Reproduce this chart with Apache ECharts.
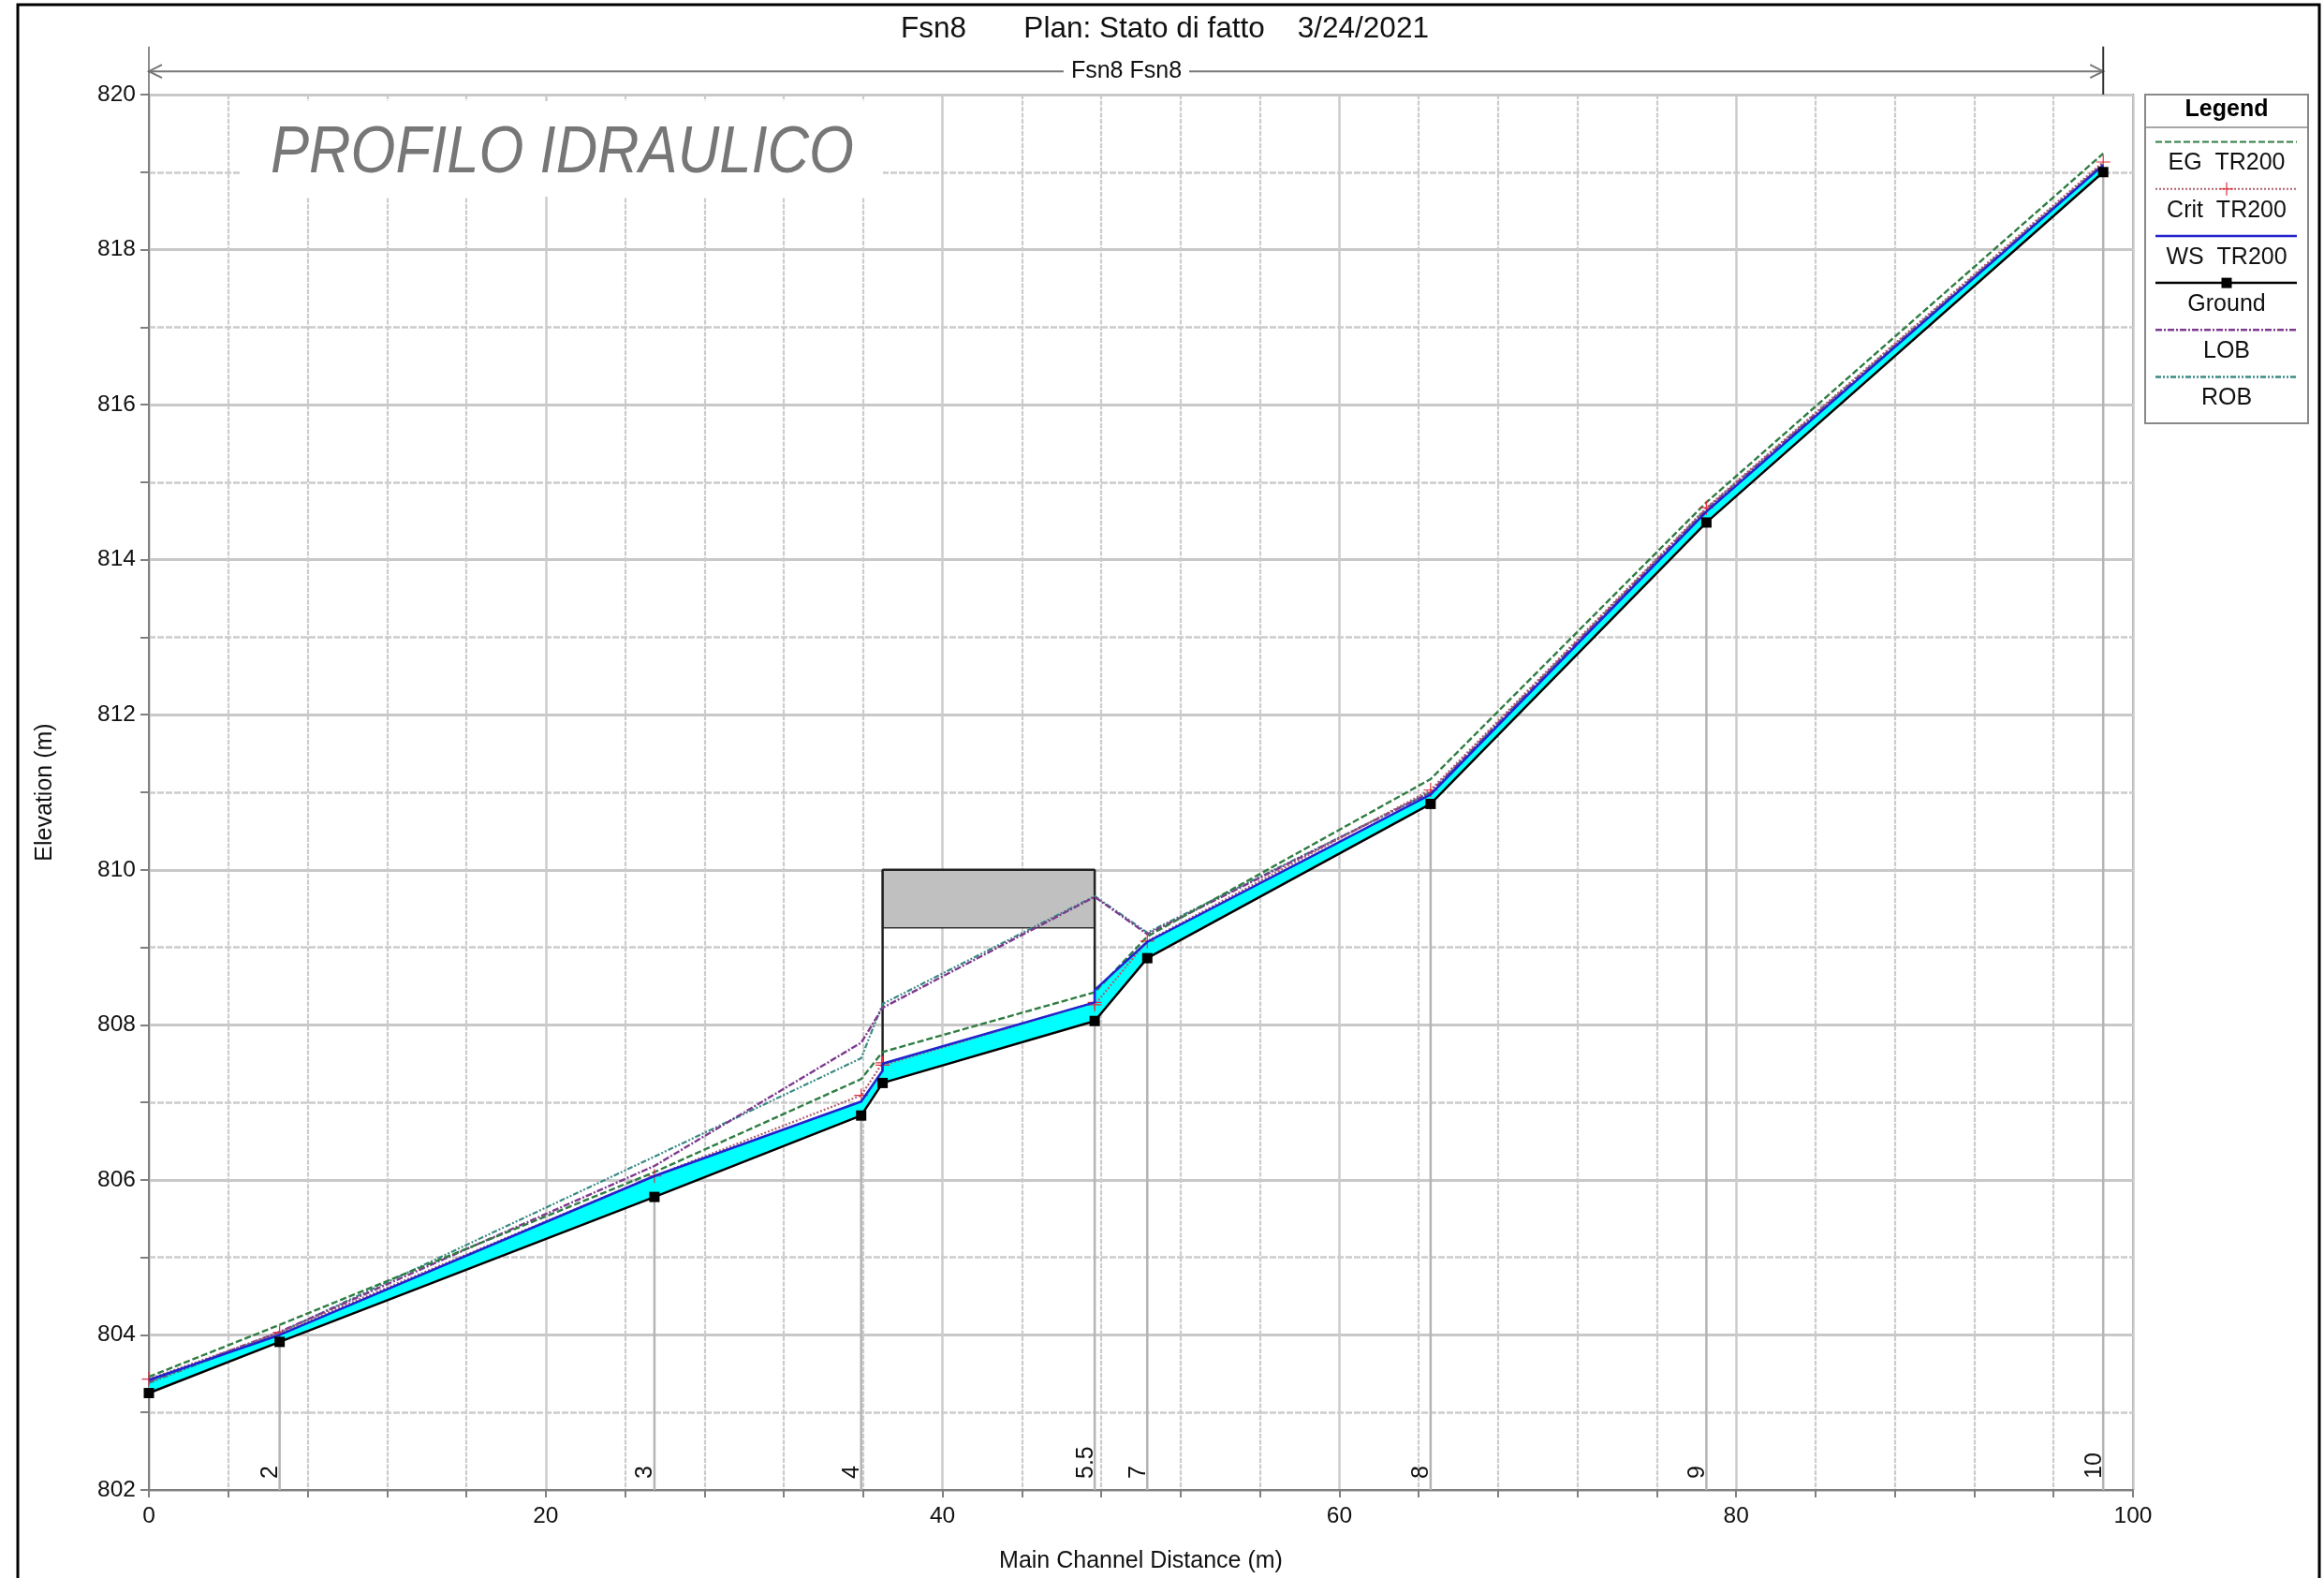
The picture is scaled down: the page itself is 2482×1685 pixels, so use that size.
<!DOCTYPE html>
<html><head><meta charset="utf-8">
<style>html,body{margin:0;padding:0;background:#fff}#c{width:2482px;height:1685px}</style>
<script src="https://cdn.jsdelivr.net/npm/echarts@6/dist/echarts.min.js"></script>
</head><body><div id="c"></div>
<script>
// ---- data ----
const stationX = [6.59, 25.48, 35.9, 47.67, 50.32, 64.6, 78.5, 98.5];
const stationY = [803.91, 805.78, 806.83, 808.05, 808.86, 810.85, 814.48, 819.0];
const stationLabels = ['2', '3', '4', '5.5', '7', '8', '9', '10'];

const groundX = [0, 6.59, 25.48, 35.9, 36.98, 47.67, 50.32, 64.6, 78.5, 98.5];
const groundY = [803.25, 803.91, 805.78, 806.83, 807.25, 808.05, 808.86, 810.85, 814.48, 819.0];

const wsX = [0, 6.59, 25.48, 35.9, 36.98, 36.98, 47.67, 47.67, 50.32, 64.6, 78.5, 98.5];
const wsY = [803.42, 804.0, 806.05, 807.01, 807.41, 807.5, 808.29, 808.45, 809.07, 810.97, 814.62, 819.09];

const egX = [0, 6.59, 25.48, 35.9, 36.98, 47.67, 50.32, 64.6, 78.5, 98.5];
const egY = [803.46, 804.13, 806.1, 807.3, 807.65, 808.42, 809.14, 811.17, 814.74, 819.24];

const critX = [0, 6.59, 25.48, 35.9, 36.98, 36.98, 47.67, 47.67, 50.32, 64.6, 78.5, 98.5];
const critY = [803.43, 804.03, 806.05, 807.09, 807.51, 807.48, 808.29, 808.26, 809.08, 811.03, 814.67, 819.13];

const lobX = [0, 6.59, 25.48, 35.9, 36.98, 47.67, 50.32, 64.6, 78.5, 98.5];
const lobY = [803.4, 804.04, 806.18, 807.77, 808.22, 809.65, 809.17, 811.0, 814.65, 819.1];

const robX = [0, 6.59, 25.48, 35.9, 36.98, 47.67, 50.32, 64.6, 78.5, 98.5];
const robY = [803.38, 804.03, 806.3, 807.57, 808.27, 809.66, 809.19, 811.0, 814.66, 819.11];

const deckX = [36.98, 47.67];
const deckY = [809.25, 810];
const reachX = [0, 98.5];
const reachLabel = 'Fsn8 Fsn8';
const chartTitle = 'Fsn8       Plan: Stato di fatto    3/24/2021';
const legendNames = ['EG  TR200', 'Crit  TR200', 'WS  TR200', 'Ground', 'LOB', 'ROB'];

const zip = (a, b) => a.map((v, i) => [v, b[i]]);
const FONT = '"Liberation Sans", Arial, sans-serif';
const C = {eg:'#2f7d43', crit:'#b0606e', ws:'#2222cc', ground:'#000000', lob:'#7d3a8f', rob:'#3a8a84', plus:'#e0303c'};
const PLUS = 'path://M46 0H54V46H100V54H54V100H46V54H0V46H46Z';
const DASH = {eg:[7,3], crit:[2,2], ws:'solid', ground:'solid', lob:[7,2,2,2], rob:[6,2,2,2,2,2]};

function bandItem(params, api) {
  const pts = wsX.map((x, i) => api.coord([x, wsY[i]]));
  for (let i = groundX.length - 1; i >= 0; i--) pts.push(api.coord([groundX[i], groundY[i]]));
  return {type:'polygon', shape:{points:pts}, style:{fill:'#00ffff'}, silent:true};
}
function deckItem(params, api) {
  const tl = api.coord([deckX[0], deckY[1]]), br = api.coord([deckX[1], deckY[0]]);
  const g0 = api.coord([deckX[0], 807.25]), g1 = api.coord([deckX[1], 808.05]);
  const ln = {stroke:'#222', lineWidth:2.5};
  return {type:'group', children:[
    {type:'rect', shape:{x:tl[0], y:tl[1], width:br[0]-tl[0], height:br[1]-tl[1]}, style:{fill:'#c0c0c0', stroke:'#333', lineWidth:1.5}},
    {type:'line', shape:{x1:tl[0], y1:tl[1], x2:g0[0], y2:g0[1]}, style:ln},
    {type:'line', shape:{x1:br[0], y1:tl[1], x2:g1[0], y2:g1[1]}, style:ln},
    {type:'line', shape:{x1:tl[0], y1:tl[1], x2:br[0], y2:tl[1]}, style:ln}
  ]};
}
function stationItem(params, api) {
  const top = api.coord([api.value(0), api.value(1)]);
  const bot = api.coord([api.value(0), 802]);
  return {type:'group', children:[
    {type:'line', shape:{x1:top[0], y1:top[1], x2:bot[0], y2:bot[1]}, style:{stroke:'#b4b4b4', lineWidth:2.5}},
    {type:'text', x:bot[0]+3, y:bot[1]-12, rotation:Math.PI/2,
     style:{text:stationLabels[params.dataIndex], font:'25px '+FONT, fill:'#111', align:'left', verticalAlign:'bottom'}}
  ]};
}
function reachItem(params, api) {
  const a = api.coord([reachX[0], 820.3]), b = api.coord([reachX[1], 820.3]);
  const t0 = api.coord([reachX[0], 820.62]), t1 = api.coord([reachX[1], 820.62]), e1 = api.coord([reachX[1], 820]);
  const s = {stroke:'#777', lineWidth:2, fill:'none'};
  return {type:'group', children:[
    {type:'line', shape:{x1:a[0], y1:a[1], x2:b[0], y2:b[1]}, style:s},
    {type:'polyline', shape:{points:[[a[0]+14,a[1]-7],[a[0],a[1]],[a[0]+14,a[1]+7]]}, style:s},
    {type:'polyline', shape:{points:[[b[0]-14,b[1]-7],[b[0],b[1]],[b[0]-14,b[1]+7]]}, style:s},
    {type:'line', shape:{x1:t0[0], y1:t0[1], x2:t0[0], y2:e1[1]}, style:{stroke:'#666', lineWidth:1.5}},
    {type:'line', shape:{x1:t1[0], y1:t1[1], x2:t1[0], y2:e1[1]}, style:{stroke:'#333', lineWidth:2}},
    {type:'text', x:1203, y:a[1], z2:10, style:{text:reachLabel, font:'25px '+FONT, fill:'#111', align:'center', verticalAlign:'middle',
      backgroundColor:'#fff', padding:[0,8,0,8]}}
  ]};
}
function line(name, xs, ys, color, dash, width, z, extra) {
  return Object.assign({type:'line', name, data:zip(xs, ys), showSymbol:false, symbol:'none', clip:false, silent:true,
    animation:false, z, lineStyle:{color, type:dash, width}}, extra || {});
}

// legend block
const LX0 = 2291, LX1 = 2465, LM = 2378, LA = 2302, LB = 2453;
const legendKeys = ['eg','crit','ws','ground','lob','rob'];
const legendWidths = [2.2, 2, 2.5, 2.5, 2.5, 2.5];
const legendGraphics = [
  {type:'rect', shape:{x:LX0, y:101, width:LX1-LX0, height:351}, style:{fill:'#fff', stroke:'#888', lineWidth:2}, z:50},
  {type:'line', shape:{x1:LX0, y1:136, x2:LX1, y2:136}, style:{stroke:'#888', lineWidth:1.5}, z:51},
  {type:'text', x:LM, y:117, style:{text:'Legend', font:'bold 25px '+FONT, fill:'#000', align:'center', verticalAlign:'middle'}, z:51}
];
legendNames.forEach((n, i) => {
  const y = 151.5 + i * 50.2, k = legendKeys[i];
  const d = DASH[k];
  legendGraphics.push({type:'line', shape:{x1:LA, y1:y, x2:LB, y2:y}, style:{stroke:C[k], lineWidth:legendWidths[i], lineDash:d==='solid'?null:d}, z:51});
  legendGraphics.push({type:'text', x:LM, y:y+23, style:{text:n, font:'25px '+FONT, fill:'#111', align:'center', verticalAlign:'middle'}, z:51});
  if (k === 'ground') legendGraphics.push({type:'rect', shape:{x:LM-5.5, y:y-5.5, width:11, height:11}, style:{fill:'#000'}, z:52});
  if (k === 'crit') {
    legendGraphics.push({type:'line', shape:{x1:LM-7, y1:y, x2:LM+7, y2:y}, style:{stroke:C.plus, lineWidth:1.2}, z:52});
    legendGraphics.push({type:'line', shape:{x1:LM, y1:y-7, x2:LM, y2:y+7}, style:{stroke:C.plus, lineWidth:1.2}, z:52});
  }
});

const option = {
  animation:false,
  backgroundColor:'#fff',
  textStyle:{fontFamily:FONT},
  title:{text:chartTitle, left:1239, top:10, textAlign:'center', textStyle:{fontFamily:FONT, fontSize:31.5, fontWeight:'normal', color:'#111'}},
  grid:{left:159, right:204, top:101, bottom:94, outerBoundsMode:'none', show:true, borderColor:'#808080', borderWidth:2, backgroundColor:'#fff'},
  xAxis:{type:'value', min:0, max:100, interval:20,
    name:'Main Channel Distance (m)', nameLocation:'middle', nameGap:64,
    nameTextStyle:{fontSize:25, color:'#111', fontFamily:FONT},
    axisLine:{onZero:false, lineStyle:{color:'#808080', width:2}},
    axisTick:{length:8, lineStyle:{color:'#808080', width:2}},
    minorTick:{show:true, splitNumber:5, length:8, lineStyle:{color:'#808080', width:2}},
    axisLabel:{fontSize:24.5, color:'#111', margin:16, fontFamily:FONT},
    splitLine:{show:true, lineStyle:{color:'#cccccc', width:2.5}},
    minorSplitLine:{show:true, lineStyle:{color:'#cccccc', width:2.2, type:[5,1.5]}}
  },
  yAxis:{type:'value', min:802, max:820, interval:2,
    name:'Elevation (m)', nameLocation:'middle', nameGap:98,
    nameTextStyle:{fontSize:25, color:'#111', fontFamily:FONT},
    axisLine:{onZero:false, lineStyle:{color:'#808080', width:2}},
    axisTick:{length:9, lineStyle:{color:'#808080', width:2}},
    minorTick:{show:true, splitNumber:2, length:9, lineStyle:{color:'#808080', width:2}},
    axisLabel:{fontSize:24.5, color:'#111', margin:14, fontFamily:FONT, padding:[3,0,0,0]},
    splitLine:{show:true, lineStyle:{color:'#c8c8c8', width:3}},
    minorSplitLine:{show:true, lineStyle:{color:'#cccccc', width:2.5, type:[7,2]}}
  },
  graphic:{elements:[
    {type:'rect', shape:{x:19, y:5, width:2458, height:1700}, style:{fill:'none', stroke:'#000', lineWidth:3}, z:40, silent:true},
    {type:'rect', shape:{x:258, y:108, width:685, height:102}, style:{fill:'#fff'}, z:1, silent:true},
    {type:'text', x:289, y:130, scaleX:0.88, style:{text:'PROFILO IDRAULICO', font:'italic 70px '+FONT, fill:'#777', align:'left', verticalAlign:'top'}, z:2, silent:true}
  ].concat(legendGraphics)},
  series:[
    {type:'custom', name:'Stations', renderItem:stationItem, data:zip(stationX, stationY), clip:false, silent:true, z:2},
    {type:'custom', name:'Deck', renderItem:deckItem, data:[[deckX[0], deckY[0]]], clip:false, silent:true, z:3},
    {type:'custom', name:'Flow', renderItem:bandItem, data:[[0, 803]], clip:false, silent:true, z:4},
    line('ROB', robX, robY, C.rob, DASH.rob, 2.2, 6),
    line('LOB', lobX, lobY, C.lob, DASH.lob, 2.4, 6),
    line('EG TR200', egX, egY, C.eg, DASH.eg, 2.4, 7),
    line('Crit TR200', critX, critY, C.crit, DASH.crit, 2.2, 8, {showSymbol:true, showAllSymbol:true, symbol:PLUS, symbolSize:15, itemStyle:{color:C.plus}}),
    line('WS TR200', wsX, wsY, C.ws, 'solid', 2.5, 9),
    line('Ground', groundX, groundY, C.ground, 'solid', 2.5, 10, {showSymbol:true, showAllSymbol:true, symbol:'rect', symbolSize:11, itemStyle:{color:'#000'}}),
    {type:'custom', name:'Reach', renderItem:reachItem, data:[[0, 820]], clip:false, silent:true, z:11}
  ]
};
echarts.init(document.getElementById('c'), null, {renderer:'canvas'}).setOption(option);
</script></body></html>
